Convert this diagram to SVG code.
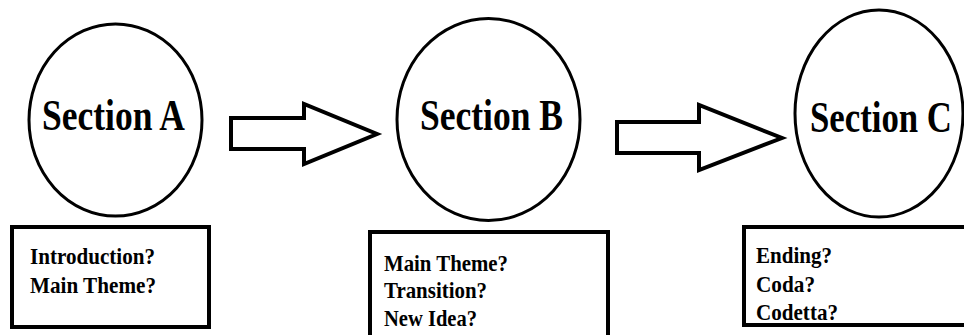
<svg xmlns="http://www.w3.org/2000/svg" width="964" height="335" viewBox="0 0 964 335">
<style>
.circ{fill:#fff;stroke:#000;stroke-width:3}
.box{fill:#fff;stroke:#000;stroke-width:4}
.arr{fill:#fff;stroke:#000;stroke-width:4;stroke-linejoin:miter}
.title{font-family:"Liberation Serif","Times New Roman",serif;font-weight:bold;font-size:45px;fill:#000}
.item{font-family:"Liberation Serif","Times New Roman",serif;font-weight:bold;font-size:23px;fill:#000}
</style>
<rect width="964" height="335" fill="#fff"/>
<g id="connectors">
<polygon class="arr" points="231,118 304,118 304,104 377,134 304,164 304,149 231,149"/>
<polygon class="arr" points="617,122 699,122 699,105 782,138 699,170 699,153 617,153"/>
</g>
<g id="sectionA">
<ellipse class="circ" cx="115.5" cy="120" rx="86.5" ry="96"/>
<text class="title" x="42" y="130" textLength="143" lengthAdjust="spacingAndGlyphs">Section A</text>
</g>
<g id="sectionB">
<ellipse class="circ" cx="488.5" cy="119.5" rx="91.5" ry="101"/>
<text class="title" x="420" y="130" textLength="143" lengthAdjust="spacingAndGlyphs">Section B</text>
</g>
<g id="sectionC">
<ellipse class="circ" cx="879" cy="113.5" rx="84" ry="103.5"/>
<text class="title" x="810" y="132" textLength="142" lengthAdjust="spacingAndGlyphs">Section C</text>
</g>
<g id="boxA">
<rect class="box" x="12" y="227" width="197" height="100"/>
<text class="item" x="30" y="264" textLength="125" lengthAdjust="spacingAndGlyphs">Introduction?</text>
<text class="item" x="30" y="293" textLength="126" lengthAdjust="spacingAndGlyphs">Main Theme?</text>
</g>
<g id="boxB">
<rect class="box" x="370" y="232" width="238" height="120"/>
<text class="item" x="384" y="271" textLength="124" lengthAdjust="spacingAndGlyphs">Main Theme?</text>
<text class="item" x="384" y="298" textLength="103" lengthAdjust="spacingAndGlyphs">Transition?</text>
<text class="item" x="384" y="326" textLength="93" lengthAdjust="spacingAndGlyphs">New Idea?</text>
</g>
<g id="boxC">
<rect class="box" x="744" y="227" width="240" height="98"/>
<text class="item" x="756" y="263" textLength="76" lengthAdjust="spacingAndGlyphs">Ending?</text>
<text class="item" x="756" y="292" textLength="59" lengthAdjust="spacingAndGlyphs">Coda?</text>
<text class="item" x="756" y="320" textLength="82" lengthAdjust="spacingAndGlyphs">Codetta?</text>
</g>
</svg>
